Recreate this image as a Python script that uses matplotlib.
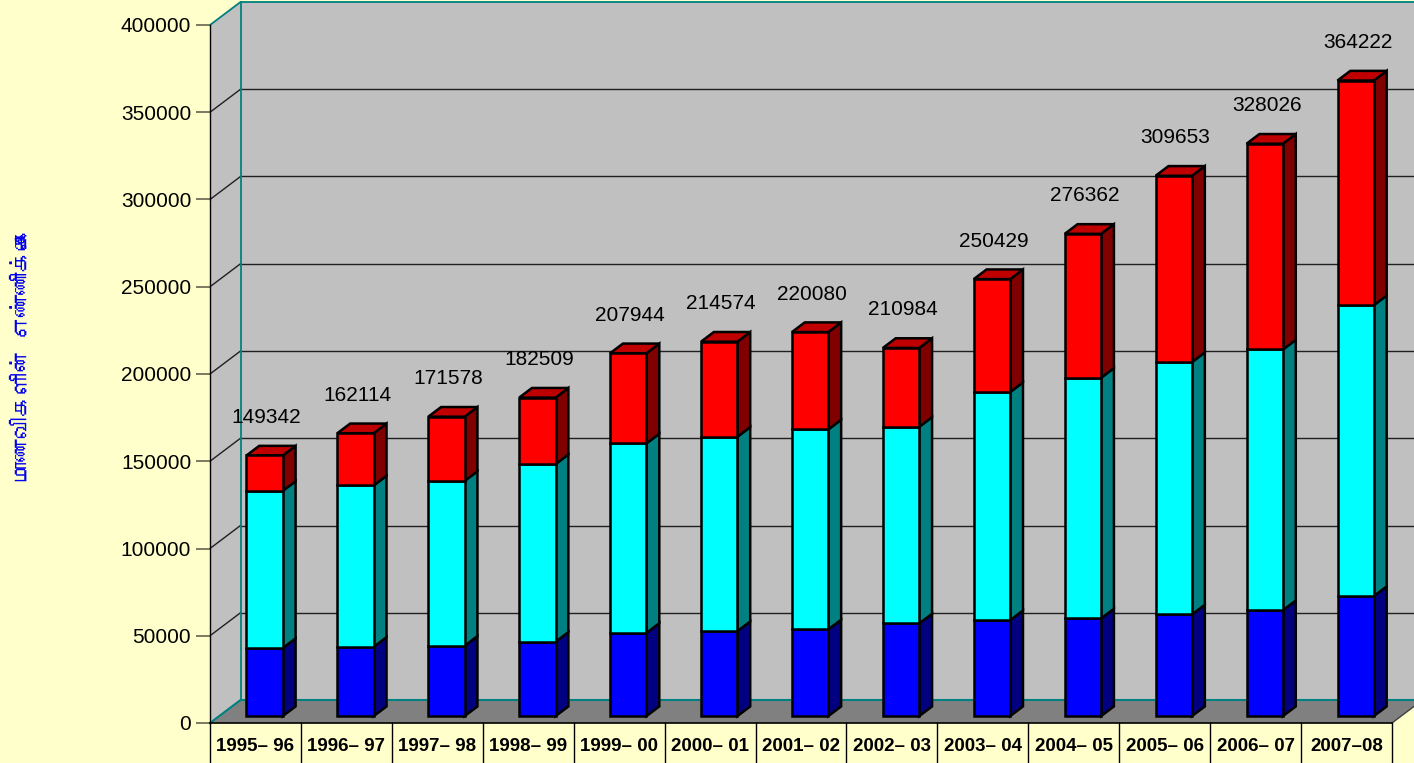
import matplotlib
matplotlib.use('Agg')
import matplotlib.pyplot as plt
from matplotlib.patches import Polygon
from matplotlib import font_manager

# ---------------- data ----------------
categories = ['1995– 96', '1996– 97', '1997– 98', '1998– 99', '1999– 00',
              '2000– 01', '2001– 02', '2002– 03', '2003– 04', '2004– 05',
              '2005– 06', '2006– 07', '2007–08']
blue_vals = [39000, 39700, 40300, 42600, 47700, 48700, 49700, 53100,
             55000, 56000, 58300, 60700, 68800]
cyan_vals = [90100, 92500, 94500, 101800, 108600, 111400, 114600, 112700,
             130700, 137900, 144600, 149400, 166700]
red_vals = [20242, 29914, 36778, 38109, 51644, 54474, 55780, 45184,
            64729, 82462, 106753, 117926, 128722]
totals = [149342, 162114, 171578, 182509, 207944, 214574, 220080, 210984,
          250429, 276362, 309653, 328026, 364222]
yticks = [0, 50000, 100000, 150000, 200000, 250000, 300000, 350000, 400000]
ylabel_text = 'மாணவிகளின் எண்ணிக்கை'


def find_font_for(ch):
    try:
        from fontTools.ttLib import TTFont
    except Exception:
        return None
    for f in font_manager.fontManager.ttflist:
        try:
            tt = TTFont(f.fname, fontNumber=0, lazy=True)
            cmap = tt.getBestCmap()
            if cmap and ord(ch) in cmap:
                return f.name
        except Exception:
            pass
    return None


tamil_font = find_font_for('ம')

plt.rcParams['font.family'] = ['Liberation Sans', 'DejaVu Sans']

W, H = 1414, 763
BG = '#FFFFCC'
fig = plt.figure(figsize=(W / 100, H / 100), dpi=100, facecolor=BG)

left_px, right_px, bot_px, top_px = 210, 1392, 723, 25
ax = fig.add_axes([left_px / W, (H - bot_px) / H,
                   (right_px - left_px) / W, (bot_px - top_px) / H])
ax.set_xlim(0, len(categories))
ax.set_ylim(0, 400000)
ax.set_facecolor('none')

px_per_x = (right_px - left_px) / len(categories)
px_per_y = (bot_px - top_px) / 400000
DX = 30.5 / px_per_x
DY = 23 / px_per_y
n = len(categories)
YMAX = 400000

teal = '#008080'
wall = '#C0C0C0'
floor = '#808080'

# side wall
ax.add_patch(Polygon([(0, 0), (DX, DY), (DX, YMAX + DY), (0, YMAX)],
                     closed=True, facecolor=wall, edgecolor='none',
                     zorder=0, clip_on=False))
# back wall
ax.add_patch(Polygon([(DX, DY), (n + DX + 1, DY), (n + DX + 1, YMAX + DY),
                      (DX, YMAX + DY)], closed=True, facecolor=wall,
                     edgecolor='none', zorder=0, clip_on=False))
# gridlines
for v in yticks[1:-1]:
    ax.plot([DX, n + DX + 1], [v + DY, v + DY], color='#202020', lw=1.0,
            zorder=1, clip_on=False)
    ax.plot([0, DX], [v, v + DY], color='#202020', lw=1.0, zorder=1,
            clip_on=False)
# wall top edges & back-left edge
ax.plot([0, DX, n + DX + 1], [YMAX, YMAX + DY, YMAX + DY], color=teal,
        lw=1.3, zorder=1, clip_on=False)
ax.plot([DX, DX], [DY, YMAX + DY], color=teal, lw=1.3, zorder=1,
        clip_on=False)
# floor
ax.add_patch(Polygon([(0, 0), (n, 0), (n + DX, DY), (DX, DY)], closed=True,
                     facecolor=floor, edgecolor='none', zorder=1.5,
                     clip_on=False))
ax.plot([0, DX, n + DX + 1], [0, DY, DY], color=teal, lw=1.5, zorder=1.6,
        clip_on=False)
ax.plot([n, n + DX], [0, DY], color='#404040', lw=1.0, zorder=1.6,
        clip_on=False)
ax.plot([0, n], [0, 0], color='black', lw=1.2, zorder=1.7, clip_on=False)

# ---------------- bars ----------------
F0 = 0.30     # depth position of bar front
D = 0.42      # bar depth
BW = 0.40     # bar width
xc = [i + 0.5 + F0 * DX for i in range(n)]
yoff = F0 * DY

series = [(blue_vals, '#0000FF', '#000080'),
          (cyan_vals, '#00FFFF', '#008080'),
          (red_vals, '#FF0000', '#800000')]
base = [0.0] * n
lw_bar = 1.8
for vals, fcol, scol in series:
    bottoms = [b + yoff for b in base]
    ax.bar(xc, vals, width=BW, bottom=bottoms, color=fcol,
           edgecolor='black', linewidth=lw_bar, zorder=4)
    for i in range(n):
        x1 = xc[i] + BW / 2
        yb = bottoms[i]
        yt = bottoms[i] + vals[i]
        ax.add_patch(Polygon([(x1, yb), (x1 + D * DX, yb + D * DY),
                              (x1 + D * DX, yt + D * DY), (x1, yt)],
                             closed=True, facecolor=scol, edgecolor='black',
                             linewidth=lw_bar, zorder=3.5, joinstyle='miter'))
    base = [b + v for b, v in zip(base, vals)]

# top faces
for i in range(n):
    x0 = xc[i] - BW / 2
    x1 = xc[i] + BW / 2
    yt = base[i] + yoff
    ax.add_patch(Polygon([(x0, yt), (x1, yt), (x1 + D * DX, yt + D * DY),
                          (x0 + D * DX, yt + D * DY)], closed=True,
                         facecolor='#C00000', edgecolor='black',
                         linewidth=lw_bar, zorder=3.6))

# value labels
lab_off = 38 / px_per_y
for i in range(n):
    ax.text(xc[i] + 0.02, totals[i] + yoff + lab_off, str(totals[i]),
            ha='center', va='center', fontsize=15, color='black', zorder=6)

# ---------------- axes ----------------
for s in ['top', 'right', 'bottom']:
    ax.spines[s].set_visible(False)
ax.spines['left'].set_color('black')
ax.spines['left'].set_linewidth(1.0)
ax.spines['left'].set_zorder(2)
ax.set_yticks(yticks)
ax.set_yticklabels([str(v) for v in yticks])
ax.tick_params(axis='y', length=10, width=1.3, color='#707058', pad=3.5,
               labelsize=15, labelcolor='black')
ax.set_xticks([i + 0.5 for i in range(n)])
ax.set_xticklabels(categories, fontsize=13.5, fontweight='bold')
ax.tick_params(axis='x', length=0, pad=11)

# category table lines
xtr = ax.get_xaxis_transform()
for k in range(n + 1):
    ax.plot([k, k], [0, -0.08], color='black', lw=1.0, transform=xtr,
            clip_on=False, zorder=2)

# y axis title
fam = [tamil_font, 'DejaVu Sans'] if tamil_font else ['DejaVu Sans']
fig.text(23 / W, 1 - 355 / H, ylabel_text, rotation=90, color='#0000EE',
         fontsize=16, fontweight='bold', ha='center', va='center',
         family=fam)

fig.savefig('out.png', dpi=100, facecolor=BG)
